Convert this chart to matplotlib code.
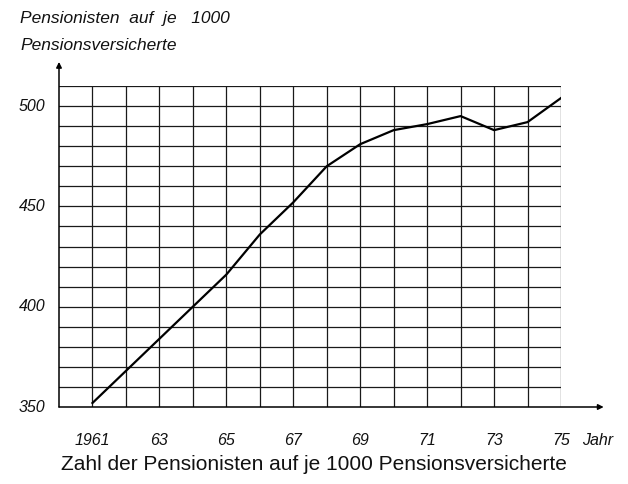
import matplotlib
matplotlib.use("Agg")
import matplotlib.pyplot as plt

years = list(range(1961, 1976))
per_1000 = [352, 368, 384, 400, 416, 436, 452, 470, 481, 488, 491, 495, 488, 492, 504]

y_labels = [350, 400, 450, 500]
x_labels = {1961: "1961", 1963: "63", 1965: "65", 1967: "67",
            1969: "69", 1971: "71", 1973: "73", 1975: "75"}

W, H = 628, 484
fig = plt.figure(figsize=(W / 100, H / 100), dpi=100)
ax = fig.add_axes([59 / W, 1 - 407 / H, (561 - 59) / W, (407 - 86) / H])

ax.set_xlim(1960, 1975)
ax.set_ylim(350, 510)

gc = "#1a1a1a"
for x in range(1961, 1976):
    ax.axvline(x, color=gc, lw=0.9, zorder=1)
for y in range(360, 511, 10):
    ax.axhline(y, color=gc, lw=0.9, zorder=1)

ax.plot(years, per_1000, color="black", lw=1.6, zorder=3)

for s in ax.spines.values():
    s.set_visible(False)
ax.set_xticks([])
ax.set_yticks([])

# axes with arrows
ax.annotate("", xy=(0, 1.075), xytext=(0, 0), xycoords="axes fraction",
            arrowprops=dict(arrowstyle="-|>", color="black", lw=1.1,
                            mutation_scale=8, shrinkA=0, shrinkB=0),
            annotation_clip=False)
ax.annotate("", xy=(1.085, 0), xytext=(0, 0), xycoords="axes fraction",
            arrowprops=dict(arrowstyle="-|>", color="black", lw=1.1,
                            mutation_scale=8, shrinkA=0, shrinkB=0),
            annotation_clip=False)

lab = dict(fontsize=11.5, style="italic", family="Liberation Sans", color="#111")
for v in y_labels:
    ax.text(1959.6, v, str(v), ha="right", va="center", **lab)
for x, t in x_labels.items():
    ax.text(x, 333.5, t, ha="center", va="center", **lab)
ax.text(1976.1, 333.5, "Jahr", ha="center", va="center", **lab)

head = dict(lab, fontsize=12.5)
fig.text(20 / W, 1 - 18 / H, "Pensionisten  auf  je   1000", ha="left", va="center", **head)
fig.text(20 / W, 1 - 45 / H, "Pensionsversicherte", ha="left", va="center", **head)

fig.text(314 / W, 1 - 464 / H, "Zahl der Pensionisten auf je 1000 Pensionsversicherte",
         ha="center", va="center", fontsize=15, family="Liberation Sans", color="#111")

fig.savefig("out.png", dpi=100)
